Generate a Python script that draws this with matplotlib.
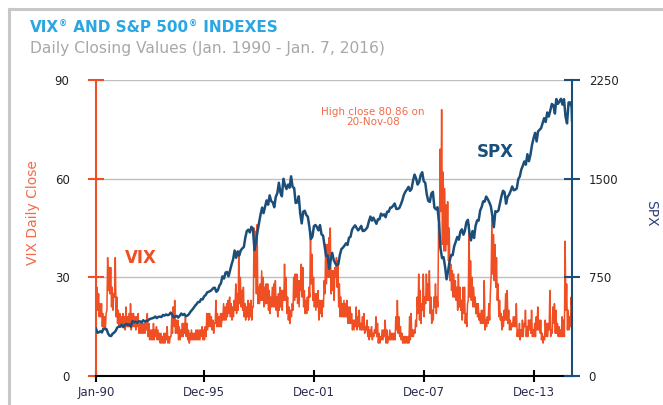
import numpy as np
import pandas as pd
import matplotlib
matplotlib.use("Agg")
import matplotlib.pyplot as plt
import matplotlib.dates as mdates
from matplotlib.lines import Line2D

# VIX: rough monthly low / high closes, Jan-1990 .. Dec-2015
vix_lo = [
    19, 20, 18, 18, 15, 15, 14, 20, 26, 25, 21, 20,   # 1990
    24, 18, 16, 15, 15, 15, 15, 14, 15, 15, 15, 14,   # 1991
    15, 15, 14, 15, 13, 13, 13, 13, 13, 14, 12, 11,   # 1992
    11, 11, 11, 12, 11, 11, 10, 10, 10, 10, 11, 10,   # 1993
    10, 12, 13, 15, 13, 13, 11, 11, 12, 12, 13, 12,   # 1994
    11, 10, 11, 11, 11, 11, 11, 11, 11, 12, 11, 11,   # 1995
    12, 14, 15, 15, 14, 13, 16, 15, 15, 15, 15, 17,   # 1996
    17, 17, 18, 19, 18, 17, 18, 20, 19, 20, 22, 21,   # 1997
    20, 18, 17, 18, 17, 18, 17, 21, 30, 25, 22, 22,   # 1998
    23, 23, 21, 22, 22, 20, 19, 21, 21, 21, 20, 18,   # 1999
    20, 21, 20, 23, 23, 19, 17, 16, 18, 20, 23, 24,   # 2000
    22, 21, 26, 24, 21, 19, 19, 20, 24, 28, 23, 21,   # 2001
    20, 21, 17, 19, 18, 21, 25, 28, 30, 30, 25, 26,   # 2002
    23, 30, 27, 21, 18, 18, 18, 18, 18, 16, 16, 16,   # 2003
    14, 14, 15, 14, 15, 14, 14, 14, 13, 14, 12, 11,   # 2004
    12, 11, 12, 13, 12, 10, 10, 11, 11, 12, 10, 10,   # 2005
    11, 11, 11, 11, 11, 14, 13, 12, 11, 10, 10, 10,   # 2006
    10, 10, 11, 12, 12, 13, 15, 19, 17, 16, 20, 18,   # 2007
    22, 23, 23, 19, 16, 17, 21, 19, 21, 39, 50, 40,   # 2008
    38, 38, 40, 35, 29, 26, 24, 24, 23, 20, 21, 20,   # 2009
    17, 19, 16, 15, 23, 24, 23, 21, 21, 19, 18, 17,   # 2010
    16, 16, 16, 14, 15, 16, 17, 31, 31, 29, 27, 23,   # 2011
    18, 17, 14, 15, 17, 17, 16, 14, 14, 15, 15, 15,   # 2012
    12, 12, 11, 12, 12, 15, 12, 12, 14, 13, 12, 12,   # 2013
    12, 14, 14, 13, 11, 10, 11, 12, 12, 14, 12, 13,   # 2014
    16, 13, 13, 12, 12, 12, 12, 12, 20, 14, 14, 15,   # 2015
]
vix_hi = [
    27, 25, 22, 22, 19, 18, 19, 36, 33, 33, 27, 25,
    36, 24, 20, 19, 18, 19, 18, 21, 18, 19, 22, 19,
    19, 18, 18, 19, 16, 16, 16, 16, 17, 19, 16, 14,
    14, 16, 14, 15, 14, 13, 13, 12, 13, 13, 15, 12,
    12, 18, 21, 23, 17, 17, 15, 14, 16, 16, 18, 16,
    14, 13, 14, 13, 13, 14, 14, 14, 14, 15, 14, 15,
    19, 19, 19, 18, 17, 16, 23, 19, 18, 19, 19, 22,
    21, 22, 23, 24, 22, 21, 23, 28, 25, 38, 30, 26,
    27, 22, 21, 23, 22, 23, 21, 45, 44, 46, 27, 28,
    32, 30, 27, 28, 28, 26, 24, 27, 28, 29, 24, 25,
    27, 26, 26, 34, 30, 24, 21, 20, 22, 30, 31, 31,
    29, 29, 34, 33, 26, 23, 24, 27, 44, 37, 30, 25,
    25, 26, 23, 23, 23, 29, 40, 40, 42, 45, 32, 32,
    33, 36, 35, 28, 24, 22, 23, 22, 23, 21, 21, 19,
    17, 17, 21, 18, 20, 16, 18, 19, 15, 17, 15, 14,
    15, 13, 14, 18, 16, 13, 12, 14, 14, 17, 14, 12,
    14, 13, 13, 13, 18, 23, 18, 15, 13, 12, 12, 12,
    12, 18, 19, 14, 14, 17, 24, 31, 26, 22, 31, 24,
    31, 28, 32, 24, 20, 24, 28, 24, 46, 69, 81, 62,
    57, 52, 53, 45, 34, 32, 31, 29, 27, 31, 27, 23,
    27, 27, 19, 22, 46, 35, 30, 27, 24, 22, 22, 19,
    20, 20, 29, 17, 18, 22, 25, 48, 43, 40, 36, 28,
    23, 19, 18, 20, 25, 26, 20, 17, 16, 18, 18, 22,
    14, 16, 14, 17, 16, 20, 15, 17, 17, 20, 14, 16,
    18, 21, 17, 17, 13, 12, 17, 16, 16, 26, 14, 21,
    22, 20, 16, 15, 14, 18, 17, 41, 28, 20, 18, 24,
]
vix_jan16 = [20, 25]   # Jan 4 / Jan 7, 2016

# S&P 500 month-end closes, Jan-1990 .. Dec-2015
spx_start = 359.7      # 2-Jan-1990
spx_close = [
    329, 332, 340, 331, 361, 358, 356, 323, 306, 304, 322, 330,
    344, 367, 375, 375, 390, 371, 388, 395, 388, 392, 375, 417,
    409, 413, 404, 415, 415, 408, 424, 414, 418, 419, 431, 436,
    439, 443, 452, 440, 450, 451, 448, 464, 459, 468, 462, 466,
    482, 467, 446, 451, 457, 444, 458, 475, 463, 472, 454, 459,
    470, 487, 501, 515, 533, 545, 562, 562, 584, 582, 605, 616,
    636, 640, 646, 654, 669, 671, 640, 652, 687, 705, 757, 741,
    786, 791, 757, 801, 848, 885, 954, 899, 947, 915, 955, 970,
    980, 1049, 1102, 1112, 1091, 1134, 1121, 957, 1017, 1099, 1164, 1229,
    1280, 1238, 1286, 1335, 1302, 1373, 1329, 1320, 1283, 1363, 1389, 1469,
    1394, 1366, 1499, 1452, 1421, 1455, 1431, 1518, 1437, 1429, 1315, 1320,
    1366, 1240, 1160, 1249, 1256, 1224, 1211, 1134, 1041, 1060, 1139, 1148,
    1130, 1107, 1147, 1077, 1067, 990, 912, 916, 815, 886, 936, 880,
    856, 841, 848, 917, 964, 975, 990, 1008, 996, 1051, 1058, 1112,
    1131, 1145, 1126, 1107, 1121, 1141, 1102, 1104, 1115, 1130, 1174, 1212,
    1181, 1204, 1181, 1157, 1192, 1191, 1234, 1220, 1229, 1207, 1249, 1248,
    1280, 1281, 1295, 1311, 1270, 1270, 1277, 1304, 1336, 1378, 1401, 1418,
    1438, 1407, 1421, 1482, 1531, 1503, 1455, 1474, 1527, 1549, 1481, 1468,
    1379, 1331, 1323, 1386, 1400, 1280, 1267, 1283, 1166, 969, 896, 903,
    826, 735, 798, 873, 919, 919, 987, 1021, 1057, 1036, 1096, 1115,
    1074, 1104, 1169, 1187, 1089, 1031, 1102, 1049, 1141, 1183, 1181, 1258,
    1286, 1327, 1326, 1364, 1345, 1321, 1292, 1219, 1131, 1253, 1247, 1258,
    1312, 1366, 1408, 1398, 1310, 1362, 1379, 1407, 1441, 1412, 1416, 1426,
    1498, 1515, 1569, 1598, 1631, 1606, 1686, 1633, 1682, 1757, 1806, 1848,
    1783, 1859, 1872, 1884, 1924, 1960, 1931, 2003, 1972, 2018, 2068, 2059,
    1995, 2105, 2068, 2086, 2107, 2063, 2104, 1972, 1920, 2079, 2080, 2044,
]
spx_end = 1943          # 7-Jan-2016

tick_dates = ["1990-01-02", "1995-12-01", "2001-12-01", "2007-12-01", "2013-12-01"]
tick_labels = ["Jan-90", "Dec-95", "Dec-01", "Dec-07", "Dec-13"]

VIX_C = "#F04E23"
SPX_C = "#1B4F7A"

# build date axes
months = pd.date_range("1990-01-01", periods=len(vix_lo), freq="MS")
vix_dates = []
vix_vals = []
for i, m in enumerate(months):
    vix_dates.append(m + pd.Timedelta(days=7))
    vix_vals.append(vix_lo[i])
    vix_dates.append(m + pd.Timedelta(days=21))
    vix_vals.append(vix_hi[i])
vix_dates += [pd.Timestamp("2016-01-04"), pd.Timestamp("2016-01-07")]
vix_vals += vix_jan16

spx_dates = [pd.Timestamp("1990-01-02")] + list(pd.date_range("1990-01-31", periods=len(spx_close), freq="ME")) + [pd.Timestamp("2016-01-07")]
spx_vals = [spx_start] + spx_close + [spx_end]

W, H = 663, 405
fig = plt.figure(figsize=(W / 100, H / 100), dpi=100)
ax = fig.add_axes([96 / W, 1 - 376 / H, (572 - 96) / W, (376 - 80) / H])
ax2 = ax.twinx()

ax.grid(axis="y", color="#C0C0C0", lw=1)
ax.set_axisbelow(True)
ax.plot(vix_dates, vix_vals, color=VIX_C, lw=1.1)
ax2.plot(spx_dates, spx_vals, color=SPX_C, lw=1.8)

ax.set_ylim(0, 90)
ax.set_yticks([0, 30, 60, 90])
ax2.set_ylim(0, 2250)
ax2.set_yticks([0, 750, 1500, 2250])
ax.set_xlim(pd.Timestamp("1990-01-02"), pd.Timestamp("2016-01-07"))
ax.set_xticks([pd.Timestamp(d) for d in tick_dates])
ax.set_xticklabels(tick_labels)

for s in ["top", "right"]:
    ax.spines[s].set_visible(False)
for s in ["top", "left", "bottom"]:
    ax2.spines[s].set_visible(False)
ax.spines["left"].set_color(VIX_C)
ax.spines["left"].set_linewidth(1.5)
ax.spines["bottom"].set_color("black")
ax.spines["bottom"].set_linewidth(1.5)
ax2.spines["right"].set_color(SPX_C)
ax2.spines["right"].set_linewidth(1.5)

ax.tick_params(axis="y", direction="inout", length=12, width=1.5, color=VIX_C,
               labelsize=8.5, labelcolor="#222222", pad=13)
ax2.tick_params(axis="y", direction="inout", length=12, width=1.5, color=SPX_C,
                labelsize=8.5, labelcolor="#222222", pad=6)
ax.tick_params(axis="x", direction="inout", length=9, width=1.5, color="black",
               labelsize=8.5, labelcolor="#2B2B50", pad=3)

# title with small raised registered marks
title_parts = [("VIX", False), ("\u00ae", True), (" AND S&P 500", False),
               ("\u00ae", True), (" INDEXES", False)]
renderer = fig.canvas.get_renderer()
x = 30
for txt, sup in title_parts:
    t = fig.text(x / W, 1 - (24 if sup else 28) / H, txt, color="#2AA6E2",
                 fontsize=6 if sup else 11, fontweight="bold", va="center")
    x += t.get_window_extent(renderer).width + (1 if sup else 0)

fig.text(30 / W, 1 - 48 / H, "Daily Closing Values (Jan. 1990 - Jan. 7, 2016)",
         color="#A8A8A8", fontsize=11.2, va="center")
fig.text(33 / W, 1 - 213 / H, "VIX Daily Close", color="#F26B4A", fontsize=10,
         rotation=90, ha="center", va="center")
fig.text(651 / W, 1 - 213 / H, "SPX", color="#34407F", fontsize=10,
         rotation=270, ha="center", va="center")
fig.text(125 / W, 1 - 258 / H, "VIX", color=VIX_C, fontsize=12,
         fontweight="bold", va="center")
fig.text(477 / W, 1 - 152 / H, "SPX", color=SPX_C, fontsize=12,
         fontweight="bold", va="center")
fig.text(373 / W, 1 - 117 / H, "High close 80.86 on\n20-Nov-08", color="#F26B4A",
         fontsize=7.5, ha="center", va="center", linespacing=1.1)

# outer frame (left and top edges)
fig.add_artist(Line2D([8.5 / W, 8.5 / W], [0, 1 - 9 / H], color="#C8C8C8", lw=2.2,
                      transform=fig.transFigure))
fig.add_artist(Line2D([8.5 / W, 1], [1 - 9 / H, 1 - 9 / H], color="#C8C8C8", lw=2.2,
                      transform=fig.transFigure))

fig.savefig("out.png", dpi=100)
